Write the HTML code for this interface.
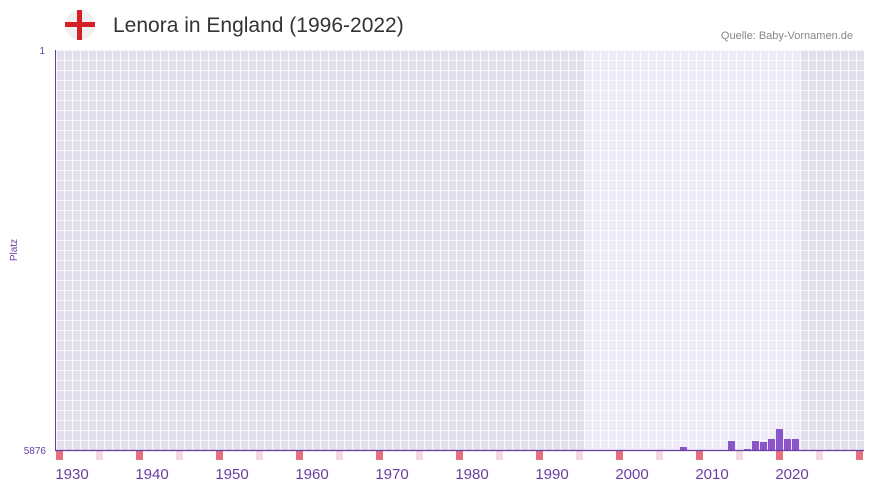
<!DOCTYPE html>
<html><head><meta charset="utf-8"><style>
body{margin:0;width:873px;height:492px;background:#fff;font-family:"Liberation Sans",sans-serif;overflow:hidden;position:relative}
.t{position:absolute;left:113px;top:14px;font-size:21px;color:#333}
.q{position:absolute;right:20px;top:30px;font-size:11px;color:#888}
.xl{position:absolute;top:466px;font-size:15px;color:#6a3ea1;transform:translateX(-50%)}
</style></head><body>
<svg width="873" height="492" style="position:absolute;left:0;top:0">
<defs>
<pattern id="g" x="56" y="50" width="8" height="10" patternUnits="userSpaceOnUse">
<rect x="0" y="0" width="8" height="1" fill="#ffffff" opacity="0.75"/>
<rect x="0" y="0" width="1" height="10" fill="#ffffff" opacity="0.75"/>
</pattern>
</defs>
<rect x="56" y="50" width="808" height="400" fill="#e2deeb"/>
<rect x="584" y="50" width="216" height="400" fill="#eeeaf8"/>
<rect x="56" y="50" width="808" height="400" fill="url(#g)"/>
<circle cx="80" cy="25" r="15" fill="#f0f0f0"/>
<rect x="77" y="10" width="5" height="30" fill="#d5202a"/>
<rect x="65" y="22" width="30" height="5" fill="#d5202a"/>
<g fill="#8a55c8">
<rect x="680" y="447" width="7" height="3"/>
<rect x="728" y="441" width="7" height="9"/>
<rect x="744" y="449" width="7" height="1"/>
<rect x="752" y="441" width="7" height="9"/>
<rect x="760" y="442" width="7" height="8"/>
<rect x="768" y="439" width="7" height="11"/>
<rect x="776" y="429" width="7" height="21"/>
<rect x="784" y="439" width="7" height="11"/>
<rect x="792" y="439" width="7" height="11"/>
</g>
<g fill="#e8707c">
<rect x="56" y="451" width="7" height="9"/><rect x="136" y="451" width="7" height="9"/><rect x="216" y="451" width="7" height="9"/><rect x="296" y="451" width="7" height="9"/><rect x="376" y="451" width="7" height="9"/><rect x="456" y="451" width="7" height="9"/><rect x="536" y="451" width="7" height="9"/><rect x="616" y="451" width="7" height="9"/><rect x="696" y="451" width="7" height="9"/><rect x="776" y="451" width="7" height="9"/><rect x="856" y="451" width="7" height="9"/>
</g>
<g fill="#f5d8df">
<rect x="96" y="451" width="7" height="9"/><rect x="176" y="451" width="7" height="9"/><rect x="256" y="451" width="7" height="9"/><rect x="336" y="451" width="7" height="9"/><rect x="416" y="451" width="7" height="9"/><rect x="496" y="451" width="7" height="9"/><rect x="576" y="451" width="7" height="9"/><rect x="656" y="451" width="7" height="9"/><rect x="736" y="451" width="7" height="9"/><rect x="816" y="451" width="7" height="9"/>
</g>
<line x1="55.5" y1="50" x2="55.5" y2="451" stroke="#6a3ea1" stroke-width="1"/>
<line x1="55" y1="450.5" x2="864" y2="450.5" stroke="#6a3ea1" stroke-width="1.2"/>
<text x="45" y="54" font-size="10" fill="#6a3ea1" text-anchor="end" font-family="Liberation Sans">1</text>
<text x="46" y="454" font-size="10" fill="#6a3ea1" text-anchor="end" font-family="Liberation Sans">5876</text>
<text x="17" y="250" font-size="10" fill="#6a3ea1" text-anchor="middle" transform="rotate(-90 17 250)" font-family="Liberation Sans">Platz</text>
</svg>
<div class="t">Lenora in England (1996-2022)</div>
<div class="q">Quelle: Baby-Vornamen.de</div>
<div class="xl" style="left:72px">1930</div><div class="xl" style="left:152px">1940</div><div class="xl" style="left:232px">1950</div><div class="xl" style="left:312px">1960</div><div class="xl" style="left:392px">1970</div><div class="xl" style="left:472px">1980</div><div class="xl" style="left:552px">1990</div><div class="xl" style="left:632px">2000</div><div class="xl" style="left:712px">2010</div><div class="xl" style="left:792px">2020</div>
</body></html>
